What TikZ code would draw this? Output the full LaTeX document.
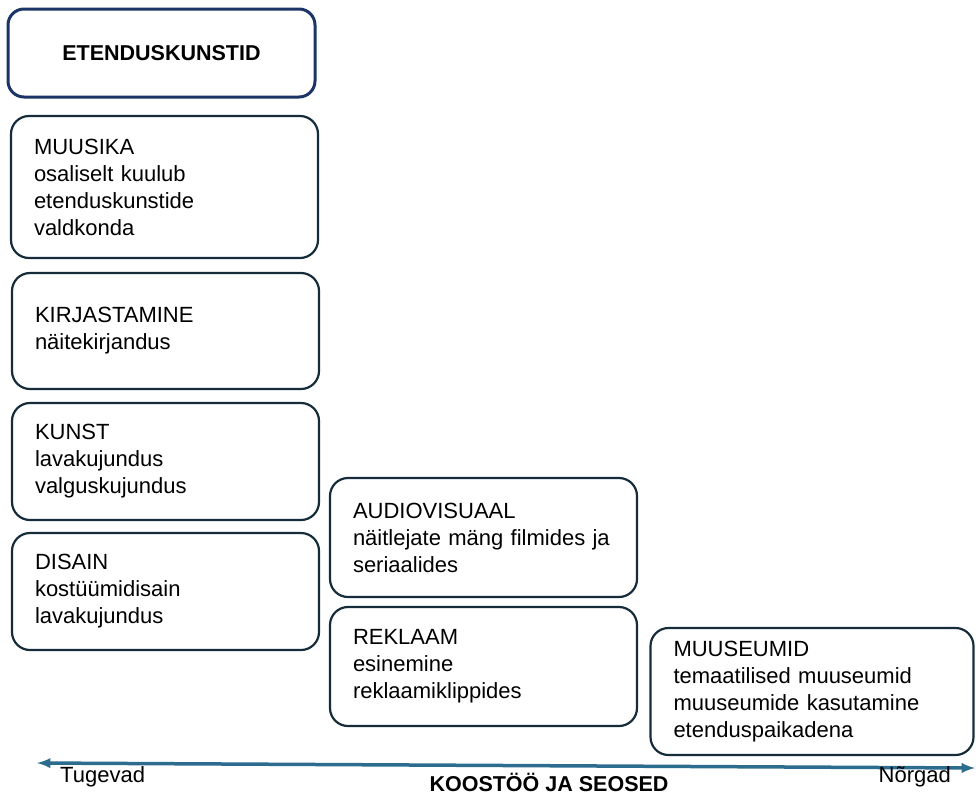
\documentclass[tikz,border=0pt]{standalone}
\usepackage{fontspec}
\setmainfont{Liberation Sans}
\usepackage{tikz}
\usetikzlibrary{arrows}
\usepackage{xcolor}
\definecolor{navyline}{RGB}{28,52,102}
\definecolor{slateline}{RGB}{22,44,58}
\definecolor{axisblue}{RGB}{44,108,142}

\begin{document}
\begin{tikzpicture}[x=1pt,y=-1pt]
\tikzstyle{card} = [draw=slateline, line width=2.2pt, rounded corners=18pt, fill=white, align=left, inner xsep=23pt, inner ysep=0pt, font=\fontsize{22}{27}\selectfont]
\tikzstyle{head} = [draw=navyline, line width=3pt, rounded corners=16pt, align=center, font=\fontsize{21.5}{27}\selectfont\bfseries]
\tikzstyle{axis} = [draw=axisblue, line width=3.5pt, latex-latex]
\tikzstyle{tag} = [inner sep=0pt, font=\fontsize{22}{27}\selectfont]

\useasboundingbox (0,0) rectangle (976,796);

\node[head, minimum width=307pt, minimum height=88pt] (etendus) at (161.5,53) {ETENDUSKUNSTID};

\node[card, text width=261pt, minimum height=142pt] (muusika) at (164.5,187) {MUUSIKA\\osaliselt kuulub\\etenduskunstide\\valdkonda};
\node[card, text width=261pt, minimum height=116pt] (kirjastamine) at (165.5,331) {KIRJASTAMINE\\näitekirjandus};
\node[card, text width=261pt, minimum height=117pt] (kunst) at (165.5,461.5) {KUNST\\lavakujundus\\valguskujundus};
\node[card, text width=261pt, minimum height=117pt] (disain) at (165.5,591.5) {DISAIN\\kostüümidisain\\lavakujundus};

\node[card, text width=261pt, minimum height=119pt] (audiovisuaal) at (483.5,537.5) {AUDIOVISUAAL\\näitlejate mäng filmides ja\\seriaalides};
\node[card, text width=261pt, minimum height=119pt] (reklaam) at (483.5,666.5) {REKLAAM\\esinemine\\reklaamiklippides};

\node[card, text width=277pt, minimum height=127pt] (muuseumid) at (812,691.5) {MUUSEUMID\\temaatilised muuseumid\\muuseumide kasutamine\\etenduspaikadena};

\coordinate (tugev) at (37,763);
\coordinate (nork) at (975,768);
\draw[axis] (tugev) -- (nork);

\node[tag, anchor=west] (tugevad) at (60,777) {Tugevad};
\node[tag, anchor=east] (norgad) at (951,777) {Nõrgad};
\node[tag, font=\fontsize{21.5}{27}\selectfont\bfseries] (koostoo) at (549,782) {KOOSTÖÖ JA SEOSED};
\end{tikzpicture}
\end{document}
